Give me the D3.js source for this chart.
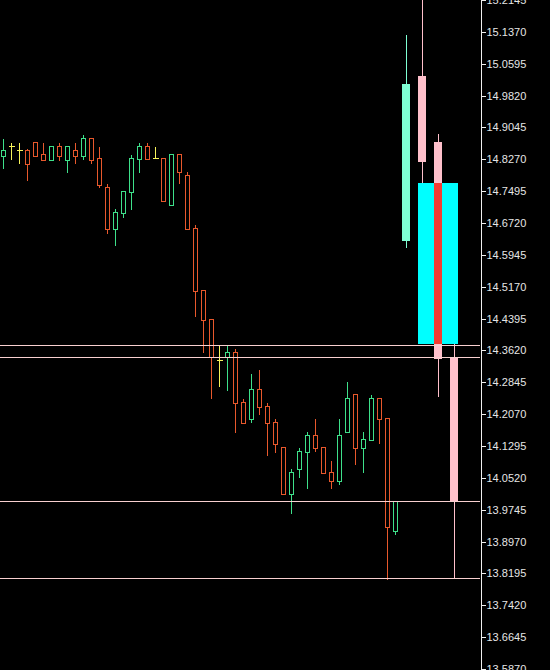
<html>
  <head>
    <meta charset="utf-8">
    <title>candles</title>
    <style>
      body { margin: 0; background: #000; }
      .axis path, .axis line { fill: none; stroke: #f0f0f0; shape-rendering: crispEdges; }
      .axis text { font-family: "Liberation Sans", Arial, sans-serif; font-size: 11px; fill: #e6e6e6; }
    </style>
  </head>
  <body>
    <script src="https://cdn.jsdelivr.net/npm/d3@7"></script>
    <script>
    var width = 550, height = 670;

    // small (lower timeframe) candles
    var opens  = [14.8357,14.8593,14.8496,14.8496,14.8691,14.8399,14.8260,14.8593,14.8260,14.8496,
                  14.8357,14.8788,14.8301,14.7589,14.6567,14.6956,14.7467,14.8270,14.8593,14.8294,
                  14.8294,14.7151,14.8399,14.7881,14.6591,14.5083,14.4377,14.3380,14.3453,14.3575,
                  14.2358,14.1945,14.2675,14.2261,14.1872,14.1264,14.0120,14.0728,14.1142,14.1555,
                  14.1264,14.0655,14.0436,14.1628,14.2553,14.1239,14.1434,14.2456,14.1969,13.9220];
    var highs  = [14.8788,14.8691,14.8691,14.8552,14.8691,14.8691,14.8593,14.8691,14.8593,14.8691,
                  14.8885,14.8788,14.8593,14.7686,14.7085,14.7491,14.8399,14.8691,14.8691,14.8593,
                  14.8294,14.8399,14.8399,14.7978,14.6689,14.5083,14.4377,14.3764,14.3769,14.3672,
                  14.2456,14.3064,14.3161,14.2358,14.1969,14.1264,14.0753,14.1264,14.1653,14.1969,
                  14.1264,14.0947,14.1969,14.2869,14.2553,14.1653,14.2553,14.2456,14.1969,13.9950];
    var lows   = [14.8065,14.8284,14.8187,14.7778,14.8350,14.8260,14.8260,14.8260,14.7968,14.8187,
                  14.8284,14.8187,14.7589,14.6470,14.6178,14.6873,14.7068,14.7968,14.8270,14.8294,
                  14.7248,14.7151,14.7686,14.6567,14.4465,14.3570,14.2456,14.2762,14.2665,14.1643,
                  14.1847,14.1872,14.2066,14.1069,14.1157,14.0120,13.9658,14.0548,14.0266,14.1166,
                  14.0631,14.0266,14.0363,14.1628,14.0850,14.0655,14.1434,14.1361,13.8052,13.9147];
    var closes = [14.8496,14.8593,14.8496,14.8163,14.8357,14.8260,14.8593,14.8357,14.8593,14.8357,
                  14.8788,14.8260,14.7652,14.6567,14.6988,14.7491,14.8294,14.8593,14.8270,14.8294,
                  14.7248,14.8399,14.7954,14.6567,14.5059,14.4353,14.3453,14.3380,14.3575,14.2334,
                  14.1847,14.2675,14.2237,14.1847,14.1337,14.0120,14.0655,14.1166,14.1555,14.1239,
                  14.0631,14.0436,14.1555,14.2456,14.1239,14.1458,14.2456,14.1945,13.9317,13.9950];

    // big (higher timeframe) candles on the right
    var bigOpens  = [14.6282, 15.0296, 14.8691, 14.3468];
    var bigHighs  = [15.1294, 15.2400, 14.8885, 14.3769];
    var bigLows   = [14.6105, 14.7700, 14.2487, 13.8072];
    var bigCloses = [15.0102, 14.8204, 14.3404, 13.9957];

    // cyan zone and level lines
    var zoneTop = 14.7693, zoneBottom = 14.3777;
    var levels = [14.3764, 14.3472, 13.9957, 13.8072];

    var tickLabels = ["13.5870","13.6645","13.7420","13.8195","13.8970","13.9745","14.0520","14.1295",
                      "14.2070","14.2845","14.3620","14.4395","14.5170","14.5945","14.6720","14.7495",
                      "14.8270","14.9045","14.9820","15.0595","15.1370","15.2145"];

    var svg = d3.select('body').append('svg')
      .attr('width', width).attr('height', height)
      .style('background', '#000');

    var y = d3.scaleLinear().domain([13.5870, 15.2145]).range([669, 0]);
    var x = d3.scaleBand().domain(d3.range(opens.length)).range([-0.5, 399.5]);
    var xb = d3.scaleBand().domain(d3.range(bigOpens.length)).range([398, 462]);

    var red = '#e8582c', green = '#3ee08a', yellow = '#f6f35a';
    var py = v => Math.round(y(v)) + 0.5;

    // small candles
    var g = svg.append('g').attr('shape-rendering', 'crispEdges');
    opens.forEach(function(o, i) {
      var c = closes[i];
      var col = c > o ? green : (c < o ? red : yellow);
      var cx = x(i) + 4;
      g.append('line').attr('x1', cx).attr('x2', cx)
        .attr('y1', py(highs[i])).attr('y2', py(lows[i])).attr('stroke', col);
      if (o === c) {
        g.append('line').attr('x1', cx - 3).attr('x2', cx + 3)
          .attr('y1', py(o)).attr('y2', py(o)).attr('stroke', col);
      } else {
        var top = py(Math.max(o, c)), bot = py(Math.min(o, c));
        g.append('rect').attr('x', cx - 2).attr('width', 4)
          .attr('y', top).attr('height', bot - top)
          .attr('fill', '#000').attr('stroke', col);
      }
    });

    // big candles
    var gb = svg.append('g').attr('shape-rendering', 'crispEdges');
    bigOpens.forEach(function(o, i) {
      var c = bigCloses[i];
      var col = c > o ? '#7fffd4' : '#ffc0cb';
      var cx = xb(i) + 8;
      gb.append('line').attr('x1', cx + 0.5).attr('x2', cx + 0.5)
        .attr('y1', y(bigHighs[i])).attr('y2', y(bigLows[i])).attr('stroke', col);
      gb.append('rect').attr('x', cx - 4).attr('width', 8)
        .attr('y', y(Math.max(o, c))).attr('height', y(Math.min(o, c)) - y(Math.max(o, c)))
        .attr('fill', col);
    });

    // zone box, from candle 1 body to candle 3 body, red band on candle 2
    gb.append('rect').attr('x', xb(1) + 4).attr('width', xb(3) - xb(1) + 8)
      .attr('y', y(zoneTop)).attr('height', y(zoneBottom) - y(zoneTop))
      .attr('fill', '#00ffff');
    gb.append('rect').attr('x', xb(2) + 4).attr('width', 8)
      .attr('y', y(zoneTop)).attr('height', y(zoneBottom) - y(zoneTop))
      .attr('fill', '#f23c32');

    // level lines
    svg.append('g').attr('shape-rendering', 'crispEdges')
      .selectAll('line').data(levels).enter().append('line')
      .attr('x1', 0).attr('x2', 480)
      .attr('y1', d => py(d)).attr('y2', d => py(d))
      .attr('stroke', '#f8d0d0');

    var axis = d3.axisRight(y)
      .tickValues(tickLabels.map(Number))
      .tickFormat((d, i) => tickLabels[i])
      .tickSize(5).tickSizeOuter(0).tickPadding(1);

    svg.append('g')
      .attr('class', 'axis')
      .attr('transform', 'translate(480.5,0)')
      .call(axis);
    </script>
  </body>
</html>
